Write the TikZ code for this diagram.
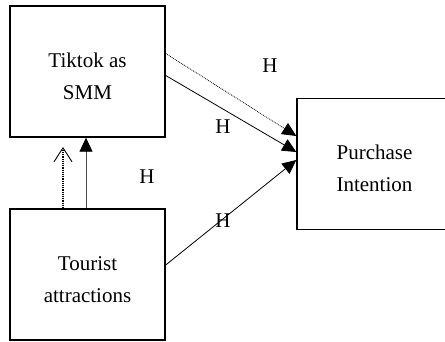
\documentclass[tikz,border=0pt]{standalone}
\usepackage{fontspec}
\setmainfont{Liberation Serif}
\usetikzlibrary{positioning}
\usetikzlibrary{arrows.meta}

\tikzset{
 varbox/.style={draw,line width=1.4pt,minimum width=155pt,minimum height=131pt,
   align=center,inner sep=0pt,text height=56pt},
 tri/.style={-{Triangle[length=14pt,width=13pt,color=black]},line width=0.8pt},
 hyp/.style={inner sep=0pt}
}

\begin{document}
\begin{tikzpicture}[x=1pt,y=-1pt,font=\fontsize{21}{32}\selectfont]
 \useasboundingbox (0,0) rectangle (445,342);
 \clip (0,0) rectangle (445,342);
 % the three constructs
 \node[varbox] (smm) at (87.5,71.5) {Tiktok as\\SMM};
 \node[varbox] (ta) at (87.5,274.5) {Tourist\\attractions};
 \node[varbox] (pi) at (374.5,164) {Purchase\\Intention};
 % paths
 \draw[tri,densely dotted] ([yshift=18pt]smm.east) -- ([yshift=28pt]pi.west);
 \draw[tri] ([yshift=-4pt]smm.east) -- ([yshift=12pt]pi.west);
 \draw[tri] ([yshift=9.5pt]ta.east) -- ([yshift=4pt]pi.west);
 \draw[tri,gray!60!black] ([xshift=-1.5pt]ta.north) -- ([xshift=-1.5pt]smm.south);
 \coordinate (dtop) at (63,147);
 \draw[densely dotted,line width=1.2pt,-{Straight Barb[length=14pt,width=18pt,line width=0.9pt]}]
   ([xshift=-24.5pt]ta.north) -- (dtop);
 % hypothesis labels
 \node[hyp] (h1) at (270,66) {H};
 \node[hyp] (h2) at (223,127) {H};
 \node[hyp] (h3) at (147,177) {H};
 \node[hyp] (h4) at (223,221) {H};
\end{tikzpicture}
\end{document}
